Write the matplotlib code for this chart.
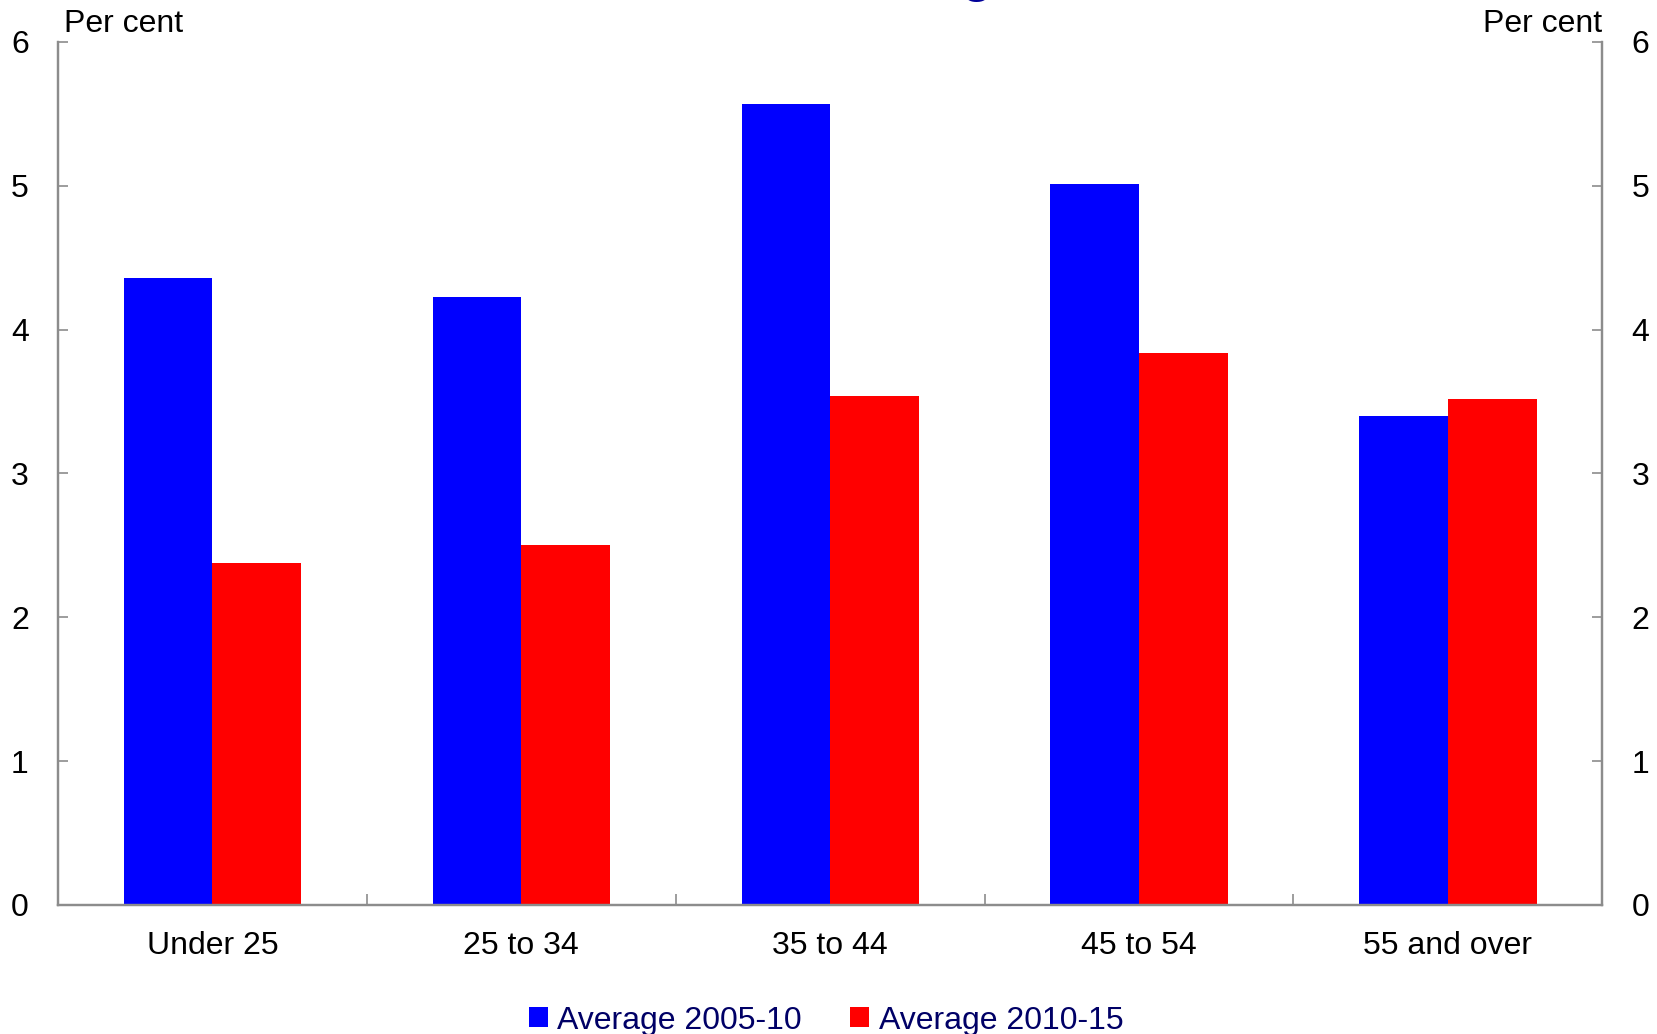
import matplotlib
matplotlib.use("Agg")
import matplotlib.pyplot as plt
import numpy as np
from matplotlib.patches import Patch
from matplotlib.transforms import offset_copy

plt.rcParams["font.family"] = ["Liberation Sans", "DejaVu Sans"]

# Unemployment-style rates by age group, per cent
age_groups = ["Under 25", "25 to 34", "35 to 44", "45 to 54", "55 and over"]
avg_2005_10 = [4.36, 4.23, 5.57, 5.01, 3.40]
avg_2010_15 = [2.38, 2.50, 3.54, 3.84, 3.52]
series_labels = ["Average 2005-10", "Average 2010-15"]

BLUE = "#0000ff"
RED = "#ff0000"
AXIS_GREY = "#8c8c8c"
NAVY = "#000066"
FS = 23

fig = plt.figure(figsize=(16.57, 10.34), dpi=100)
ax = fig.add_axes([0.035, 0.1248, 0.932, 0.8346])

x = np.arange(len(age_groups))
width = 0.287
ax.bar(x - width / 2, avg_2005_10, width, color=BLUE, linewidth=0)
ax.bar(x + width / 2, avg_2010_15, width, color=RED, linewidth=0)

ax.set_xlim(-0.5, len(age_groups) - 0.5)
ax.set_ylim(0, 6)
ax.set_yticks(range(0, 7))

# category labels sit between the boundary ticks
ax.set_xticks(np.arange(0.5, len(age_groups) - 0.5), minor=False)
ax.set_xticklabels([])
ax.set_xticks(x, minor=True)
ax.set_xticklabels(age_groups, minor=True)
ax.tick_params(axis="x", which="major", direction="in", length=8,
               width=1.2, color=AXIS_GREY)
ax.tick_params(axis="x", which="minor", length=0, labelsize=FS, pad=19)
ax.tick_params(axis="y", direction="in", length=7, width=1.2,
               color=AXIS_GREY, labelsize=FS, pad=21)

ax2 = ax.twinx()
ax2.set_ylim(0, 6)
ax2.set_yticks(range(0, 7))
ax2.tick_params(axis="y", direction="in", length=7, width=1.2,
                color=AXIS_GREY, labelsize=FS, pad=21)

for a in (ax, ax2):
    a.spines["top"].set_visible(False)
    for side in ("left", "right", "bottom"):
        a.spines[side].set_color(AXIS_GREY)
        a.spines[side].set_linewidth(1.6)

# unit labels just above each axis top
tr_left = offset_copy(ax.transAxes, fig=fig, x=4, y=7, units="points")
tr_right = offset_copy(ax2.transAxes, fig=fig, x=0, y=7, units="points")
ax.text(0.0, 1.0, "Per cent", transform=tr_left, ha="left",
        va="baseline", fontsize=FS)
ax2.text(1.0, 1.0, "Per cent", transform=tr_right, ha="right",
         va="baseline", fontsize=FS)

# title sits above the saved area; only the descender shows
fig.text(0.59, 1.008, "g", color="#000099", fontsize=36,
         fontweight="bold", ha="center", va="baseline")

handles = [Patch(facecolor=BLUE, edgecolor="none"),
           Patch(facecolor=RED, edgecolor="none")]
leg = fig.legend(handles, series_labels, loc="center", ncol=2,
                 bbox_to_anchor=(0.4985, 0.013), frameon=False, fontsize=FS,
                 handlelength=0.6, handleheight=0.6, handletextpad=0.3,
                 columnspacing=1.5, borderpad=0)
for t in leg.get_texts():
    t.set_color(NAVY)

fig.savefig("out.png", dpi=100)
